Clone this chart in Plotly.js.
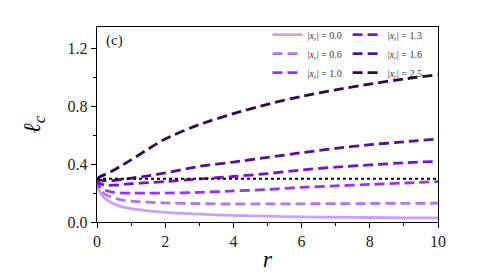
<!DOCTYPE html>
<html>
<head>
<meta charset="utf-8">
<script src="https://cdn.plot.ly/plotly-3.0.1.min.js"></script>
<style>html,body{margin:0;padding:0;background:#fff;}#chart{width:486px;height:278px;}</style>
</head>
<body>
<div id="chart"></div>
<script>
// radial coordinate samples
const r = [0, 0.03, 0.1, 0.25, 0.5, 0.75, 1, 1.5, 2, 3, 4, 5, 6, 7, 8, 9, 10];
// ell_c for each |x_r|
const lc_00 = [0.30, 0.24, 0.20, 0.16, 0.125, 0.105, 0.092, 0.077, 0.067, 0.054, 0.046, 0.040, 0.036, 0.033, 0.031, 0.029, 0.028];
const lc_06 = [0.30, 0.25, 0.22, 0.19, 0.165, 0.152, 0.145, 0.137, 0.132, 0.127, 0.125, 0.125, 0.126, 0.127, 0.128, 0.129, 0.130];
const lc_10 = [0.30, 0.265, 0.24, 0.22, 0.205, 0.200, 0.200, 0.200, 0.200, 0.205, 0.215, 0.225, 0.240, 0.250, 0.260, 0.270, 0.280];
const lc_13 = [0.30, 0.28, 0.265, 0.255, 0.255, 0.260, 0.265, 0.272, 0.280, 0.298, 0.315, 0.335, 0.360, 0.380, 0.395, 0.410, 0.420];
const lc_16 = [0.30, 0.295, 0.29, 0.285, 0.288, 0.295, 0.303, 0.320, 0.340, 0.385, 0.415, 0.447, 0.480, 0.510, 0.535, 0.555, 0.575];
const lc_25 = [0.30, 0.305, 0.315, 0.33, 0.36, 0.395, 0.430, 0.505, 0.575, 0.675, 0.750, 0.815, 0.870, 0.915, 0.955, 0.990, 1.020];
// reference level (dotted)
const refR = [0, 10];
const refLc = [0.30, 0.30];

const labels = ['0.0', '0.6', '1.0', '1.3', '1.6', '2.5'];
const series = [lc_00, lc_06, lc_10, lc_13, lc_16, lc_25];
const colors = ['#c8a2f8', '#b274f6', '#9636ee', '#7812d2', '#561092', '#2c0a4c'];
const legendIds = ['legend', 'legend', 'legend', 'legend2', 'legend2', 'legend2'];

const traces = series.map((y, i) => ({
  x: r, y: y, type: 'scatter', mode: 'lines',
  line: {color: colors[i], width: 2.8, shape: 'spline', smoothing: 0.6, dash: i === 0 ? 'solid' : '10px,5px'},
  name: '|<i>x</i><sub><i>r</i></sub>| = ' + labels[i],
  legend: legendIds[i]
}));
traces.push({
  x: refR, y: refLc, type: 'scatter', mode: 'lines',
  line: {color: '#000', width: 2, dash: 'dot'}, showlegend: false
});

const serif = 'Liberation Serif';
const layout = {
  width: 486, height: 278,
  margin: {l: 97, r: 48, t: 27, b: 56},
  paper_bgcolor: '#fff', plot_bgcolor: '#fff',
  font: {family: serif, color: '#222'},
  xaxis: {
    range: [0, 10], tickvals: [0, 2, 4, 6, 8, 10], ticks: 'outside', ticklen: 5, tickwidth: 1,
    tickcolor: '#000', showline: true, linecolor: '#000', linewidth: 1.2, mirror: true,
    showgrid: false, zeroline: false, tickfont: {size: 16, family: serif, color: '#222'},
    minor: {tickvals: [1, 3, 5, 7, 9], ticks: 'outside', ticklen: 3, tickcolor: '#000'},
    title: {text: '<i>r</i>', font: {size: 24, family: serif, color: '#111'}, standoff: 0}
  },
  yaxis: {
    range: [0, 1.35], tickvals: [0, 0.4, 0.8, 1.2], ticktext: ['0.0', '0.4', '0.8', '1.2'],
    ticks: 'outside', ticklen: 5, tickwidth: 1, tickcolor: '#000',
    showline: true, linecolor: '#000', linewidth: 1.2, mirror: true,
    showgrid: false, zeroline: false, tickfont: {size: 16, family: serif, color: '#222'},
    minor: {tickvals: [0.2, 0.6, 1.0], ticks: 'outside', ticklen: 3, tickcolor: '#000'},
    title: {text: '<i>ℓ</i><sub><i>c</i></sub>', font: {size: 24, family: serif, color: '#111'}, standoff: 20}
  },
  legend: {x: 0.5, y: 1.035, xanchor: 'left', yanchor: 'top', bgcolor: 'rgba(255,255,255,0)',
    font: {size: 10, family: serif, color: '#333'}, tracegroupgap: 0, itemwidth: 30},
  legend2: {x: 0.735, y: 1.035, xanchor: 'left', yanchor: 'top', bgcolor: 'rgba(255,255,255,0)',
    font: {size: 10, family: serif, color: '#333'}, tracegroupgap: 0, itemwidth: 30},
  annotations: [{
    text: '(c)', xref: 'paper', yref: 'paper', x: 0.02, y: 0.985, xanchor: 'left', yanchor: 'top',
    showarrow: false, font: {size: 15, family: serif, color: '#222'}
  }]
};

Plotly.newPlot('chart', traces, layout, {displayModeBar: false, staticPlot: true});
</script>
</body>
</html>
